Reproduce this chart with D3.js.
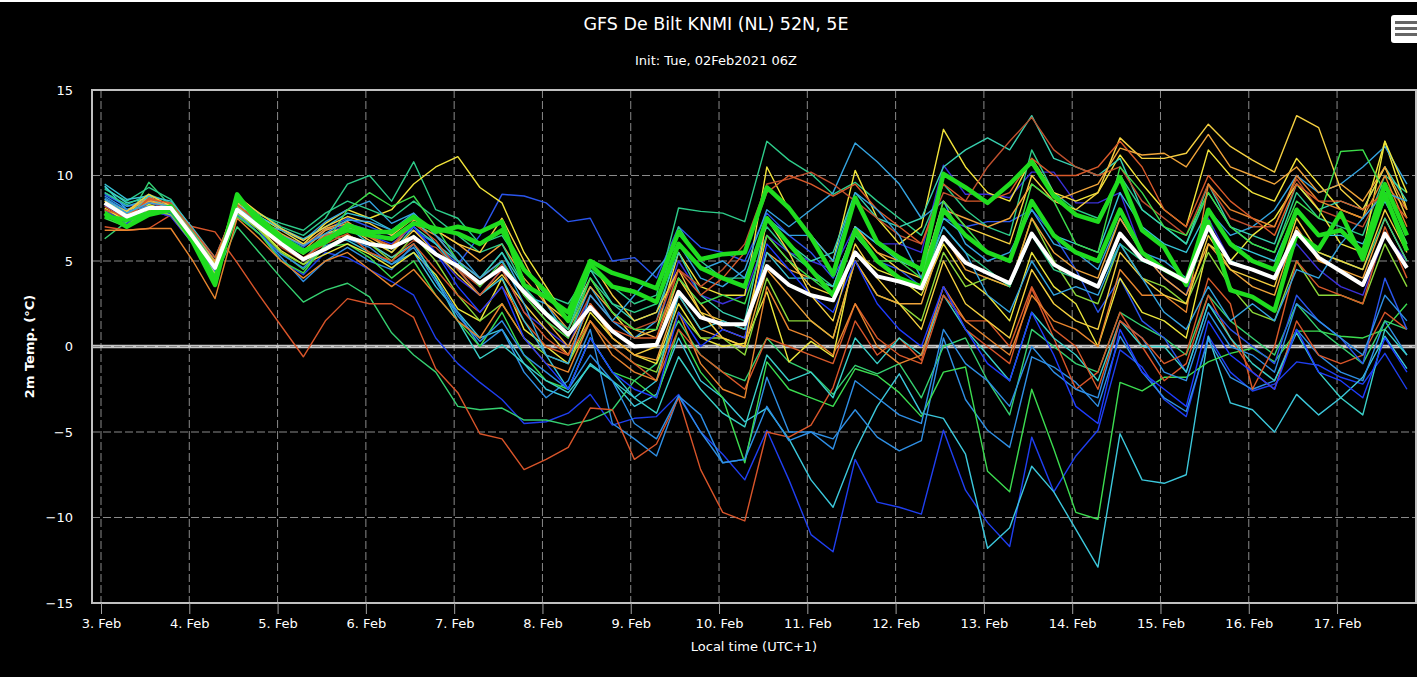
<!DOCTYPE html>
<html>
<head>
<meta charset="utf-8">
<script src="https://cdn.jsdelivr.net/npm/d3@7"></script>
<style>
html,body{margin:0;padding:0;background:#fff;overflow:hidden}
svg{display:block}
text{font-family:"DejaVu Sans",Verdana,sans-serif}
</style>
</head>
<body>
<div id="chart"></div>
<script>
// GFS ensemble, 2m temperature, De Bilt; 6-hourly steps from 3 Feb 01:00 local
var startTime = Date.UTC(2021, 1, 3, 1),
    stepHours = 6;

var meanTemp = [8.4,7.6,8.1,8.1, 6.4,4.6,8.0,7.0, 6.0,5.1,5.7,6.4, 6.0,5.8,6.4,5.4, 4.7,3.7,4.6,3.2,
    1.9,0.7,2.3,0.9, 0.0,0.1,3.2,1.7, 1.3,1.3,4.7,3.6, 3.0,2.7,5.5,4.1, 3.8,3.4,6.4,4.9,
    4.3,3.7,6.6,4.8, 4.1,3.5,6.6,5.1, 4.5,3.8,7.0,4.9, 4.5,4.0,6.7,5.2, 4.4,3.6,6.6,4.6];

var opRun = [7.6,7.4,7.8,8.2, 6.1,3.6,8.7,7.5, 6.4,5.6,6.1,7.1, 6.7,6.7,7.6,6.7, 7.0,6.7,7.3,3.6,
    2.9,2.0,5.0,4.3, 3.9,3.4,6.7,5.1, 5.4,5.5,9.3,8.1, 6.4,4.2,8.7,6.1, 5.2,4.5,10.1,9.3,
    8.4,9.5,10.8,8.8, 7.7,7.3,9.9,6.8, 5.8,3.6,7.3,3.3, 2.9,2.1,6.6,5.7, 7.8,5.1,8.9,5.6];

var ctrlRun = [7.8,7.0,7.7,8.0, 6.3,3.9,8.9,7.2, 6.2,5.5,6.3,6.8, 6.5,6.3,7.2,6.9, 6.6,6.0,6.8,4.5,
    3.2,1.5,4.8,3.5, 3.2,2.6,6.0,4.6, 4.0,3.5,7.5,6.0, 4.5,3.0,6.8,5.0, 4.0,3.5,8.0,6.5,
    5.5,5.0,8.5,6.5, 5.5,5.0,8.0,5.5, 4.5,3.8,8.0,6.0, 5.0,4.5,8.0,6.5, 6.8,5.5,9.5,6.5];

var memberColors = ["#1f3ff0","#3cc8dc","#2f8fe4","#3cdc50","#35d070","#d9552a","#2a55ec","#3a30d8",
    "#2ecc8a","#f2e43a","#34a4e0","#38d0b0","#c0502e","#f5d040","#f0a43a","#ece63c","#3ad0c8",
    "#2e8fe6","#8cd83a","#f0a43a","#d95a2a","#2ecc8a","#36c3d6","#3ddc4a","#e8852e","#1e3cff",
    "#f5d040","#d95a2a","#34a4e0"];

var members = [
  [8.0,7.2,8.0,7.6, 6.0,4.0,8.0,6.8, 5.0,4.2,5.5,5.2, 4.5,3.8,3.0,0.5, -1.0,-2.1,-3.1,-4.5, -4.4,-3.9,-2.8,-4.6, -4.2,-4.1,-2.8,-5.0, -6.3,-7.8,-4.9,-7.8, -11.0,-12.0,-6.6,-9.1, -9.4,-9.8,-4.9,-8.4, -10.3,-11.7,-5.3,-8.5, -6.4,-4.9,-0.2,-1.2, -3.1,-4.1,0.6,-1.5, -2.6,-2.2,-0.9,-1.1, -1.8,-2.2,-0.4,-2.5],
  [9.4,8.0,8.5,8.0, 6.5,4.5,8.3,7.0, 6.0,5.0,6.5,6.2, 5.5,4.8,5.5,3.5, 2.0,0.5,1.0,-1.0, -2.5,-3.0,-1.0,-2.0, -3.5,-2.8,0.5,-2.0, -3.0,-4.4,-3.6,-5.4, -7.8,-9.4,-6.1,-3.5, -1.6,-3.9,-4.2,-6.3, -11.8,-10.6,-7.0,-8.5, -10.7,-12.9,-5.1,-7.8, -8.0,-7.5,0.6,-3.3, -3.7,-5.0,-2.8,-4.0, -3.0,-1.8,0.6,-1.3],
  [8.8,8.0,8.3,7.8, 6.2,4.3,7.8,6.6, 5.2,3.8,5.0,5.8, 5.0,4.5,6.0,4.0, 2.0,0.0,1.0,-1.5, -3.0,-2.0,1.0,-4.5, -5.4,-6.4,-2.9,-5.0, -6.8,-6.6,-1.8,-5.0, -5.0,-5.4,-3.7,-5.3, -6.1,-5.5,0.5,-3.1, -4.9,-5.9,-0.6,-1.2, -2.1,-3.5,0.6,-1.5, -3.0,-3.8,0.4,-1.8, -2.5,-2.0,1.0,-0.5, -1.5,-2.0,1.5,-0.5],
  [7.5,7.0,8.3,7.9, 6.2,4.2,8.2,7.0, 5.5,4.5,5.8,6.0, 5.2,4.0,5.0,3.0, 1.5,0.0,2.0,-0.5, -2.0,-2.5,0.5,-1.5, -2.0,-3.0,1.0,-1.5, -3.0,-6.8,-0.9,-2.5, -3.0,-3.5,-1.3,-1.7, -2.7,-4.1,-1.5,-1.2, -7.3,-8.5,-2.5,-6.0, -9.7,-10.1,-2.1,-2.6, -1.8,-1.8,-0.9,-0.4, -0.1,-0.9,0.9,0.9, 0.6,0.5,1.0,2.5],
  [6.3,7.3,9.6,8.2, 6.5,4.0,7.0,5.5, 4.0,2.6,3.3,3.7, 2.9,0.8,-0.5,-1.5, -3.5,-3.7,-3.6,-4.3, -4.3,-4.6,-4.3,-3.7, -2.0,-1.0,1.5,-0.5, -1.5,-2.0,0.5,-0.9, -1.5,-2.8,-1.1,-1.6, -1.0,-3.0,0.0,0.5, -2.0,-4.0,1.0,0.0, -1.0,-1.5,2.0,1.2, 0.5,-0.5,3.0,1.5, 0.5,-0.5,2.5,1.0, 0.0,-1.0,1.5,1.0],
  [7.0,6.8,6.9,7.7, 7.0,6.7,4.9,3.0, 1.2,-0.6,1.5,2.8, 2.5,2.5,1.7,-1.3, -2.7,-5.1,-5.4,-7.2, -6.6,-5.9,-3.6,-3.7, -6.6,-5.7,-3.0,-7.2, -9.7,-10.2,-5.0,-5.3, -4.6,-2.4,1.5,-0.5, 0.5,-0.8,3.5,1.0, 0.0,-1.0,3.4,0.5, -2.5,-1.5,2.0,0.0, -2.0,-1.0,3.0,0.5, -1.5,-2.5,1.5,-0.5, -1.0,-0.5,2.0,1.0],
  [8.9,8.2,8.4,8.0, 6.8,5.0,7.5,7.3, 6.4,5.8,6.8,7.5, 7.0,6.5,6.8,6.0, 4.8,6.5,8.9,8.8, 8.4,7.3,7.5,5.0, 5.2,4.0,7.0,5.8, 5.5,5.0,7.8,6.5, 5.5,4.0,6.5,5.0, 4.5,3.5,7.5,7.0, 7.3,7.3,8.0,6.5, 4.5,2.0,4.0,1.5, 0.5,-1.5,2.5,1.0, 0.0,-1.0,3.0,1.5, 0.5,-1.0,4.0,1.0],
  [8.2,7.8,8.0,7.6, 6.0,4.4,8.2,7.4, 6.5,6.0,6.5,7.2, 6.8,6.2,7.0,5.5, 4.0,3.0,4.5,2.0, 1.0,0.0,3.0,1.5, 0.5,1.0,5.0,3.0, 2.5,3.0,6.5,5.5, 5.0,4.5,7.0,6.0, 6.0,5.5,10.6,8.9, 8.9,8.7,10.2,10.2, 8.4,8.4,9.0,5.5, 4.0,3.0,7.5,5.0, 4.5,4.0,6.0,4.5, 3.5,3.0,6.5,5.0],
  [9.2,8.5,9.3,8.6, 6.8,4.8,8.6,7.8, 7.0,6.5,7.5,9.5, 10.0,8.5,10.8,8.0, 7.5,6.0,6.5,4.5, 3.0,2.5,4.5,3.5, 2.5,3.0,8.1,7.9, 7.8,7.3,12.0,10.9, 10.1,8.9,9.6,8.5, 7.5,6.5,9.5,8.0, 7.0,6.5,11.5,9.0, 8.0,7.5,10.0,8.0, 7.0,6.0,9.0,7.0, 6.0,5.5,9.0,7.5, 7.0,6.5,10.0,9.0],
  [8.5,7.8,8.8,8.0, 6.6,4.8,8.5,7.6, 6.8,6.0,7.2,8.0, 7.5,8.0,9.5,10.5, 11.1,9.3,8.4,5.5, 3.5,1.5,4.0,2.0, 0.5,1.0,5.5,3.5, 3.0,3.0,10.5,8.0, 6.5,5.0,10.3,7.5, 6.0,7.0,12.7,10.5, 9.0,8.5,11.0,9.0, 8.5,9.0,11.2,9.5, 8.0,7.0,11.5,10.0, 9.0,8.5,11.0,9.5, 8.0,7.5,12.0,8.0],
  [9.0,8.2,8.6,8.2, 6.5,4.6,8.0,7.2, 6.8,6.2,7.3,8.0, 8.5,7.2,7.8,6.5, 5.5,4.0,5.5,3.0, 2.5,0.5,3.5,1.5, 0.5,1.5,6.0,4.0, 3.5,4.5,8.0,7.0, 8.0,9.0,11.9,10.8, 9.5,7.5,8.5,6.0, 5.0,5.5,8.0,6.0, 5.5,4.5,7.5,5.5, 5.0,4.0,8.0,6.5, 7.0,8.0,10.0,9.0, 9.5,10.5,11.7,9.5],
  [8.0,7.5,8.8,7.8, 6.2,4.2,8.4,7.0, 6.0,5.0,6.5,7.0, 6.5,5.5,7.0,6.0, 5.0,4.0,5.5,3.5, 2.0,1.0,4.5,2.5, 1.5,2.0,5.5,3.0, 2.0,1.5,7.5,6.0, 5.0,5.5,9.0,7.5, 7.0,7.5,10.5,11.5, 12.2,11.5,13.5,11.0, 10.5,10.0,11.0,8.0, 7.0,6.0,9.5,7.0, 6.5,6.0,9.5,8.0, 8.5,8.0,10.5,8.5],
  [8.0,7.4,8.4,8.1, 6.4,4.6,8.0,7.0, 5.8,5.0,6.3,6.5, 6.0,5.2,6.2,5.8, 4.5,3.5,4.8,3.0, 1.5,0.5,3.0,1.5, 1.0,1.5,4.5,3.5, 4.5,6.0,9.5,9.8, 10.2,9.5,8.5,7.5, 6.5,6.0,9.0,8.5, 10.5,12.0,13.4,11.5, 10.5,10.0,10.5,8.5, 7.5,6.5,9.5,7.5, 7.0,7.0,9.8,8.0, 7.5,7.0,9.5,8.0],
  [8.3,7.6,8.6,8.0, 6.5,4.5,8.4,7.4, 6.2,5.4,6.6,7.0, 6.2,5.5,6.8,5.5, 4.2,3.0,4.2,2.5, 1.0,-0.5,2.5,0.5, -0.5,0.0,4.0,2.0, 1.5,1.0,6.5,5.0, 3.5,3.0,7.0,5.5, 4.5,4.0,8.5,7.0, 6.5,6.0,10.0,8.5, 8.0,9.0,12.2,11.0, 11.0,11.3,13.0,11.7, 10.9,10.2,13.5,12.8, 9.2,8.0,10.5,7.5],
  [8.6,7.9,8.7,8.3, 6.7,5.0,8.2,7.3, 6.3,5.6,6.8,7.2, 6.5,5.8,7.4,6.8, 6.0,5.0,6.0,4.0, 2.5,1.0,3.5,2.0, 1.0,0.5,4.0,2.5, 1.0,0.5,5.5,4.5, 4.0,3.5,7.0,5.5, 5.0,4.5,8.0,7.5, 7.0,7.5,9.5,8.5, 9.0,9.5,11.6,11.2, 11.3,10.5,12.4,10.5, 10.0,9.5,10.5,9.0, 9.5,8.5,10.5,8.0],
  [8.1,7.3,8.3,7.9, 6.3,4.3,7.9,6.9, 5.6,4.8,5.4,6.0, 5.4,4.6,5.5,4.2, 2.2,1.5,4.0,1.0, 0.0,-1.0,2.0,0.5, -0.5,-1.0,2.5,0.5, 0.0,0.2,3.2,-0.9, 0.3,-0.6,5.5,4.5, 4.0,3.0,6.0,4.0, 3.0,1.5,5.5,3.5, 2.5,0.0,4.0,2.0, 1.5,0.5,6.0,5.0, 6.5,7.5,9.5,8.0, 6.0,5.5,12.0,9.0],
  [9.3,8.4,8.7,8.1, 6.6,4.7,8.1,7.2, 6.2,5.5,6.4,7.0, 6.0,5.2,6.0,4.0, 1.5,-0.7,0.1,-1.0, -2.0,-2.7,-1.1,-2.0, -3.0,-3.9,-0.6,-2.5, -3.9,-4.7,-0.5,-2.0, -1.5,-3.0,0.5,-1.0, 0.5,-0.5,3.0,1.0, -0.5,-2.0,2.0,0.5, -0.5,-2.0,1.5,0.0, 0.0,-1.5,2.5,0.5, -1.0,-2.0,0.8,-1.5, -3.0,-4.0,1.0,-0.5],
  [8.7,7.9,8.2,7.7, 6.3,4.4,7.7,6.6, 5.4,4.6,5.9,6.3, 5.8,4.8,5.8,3.8, 1.8,0.3,1.5,-0.5, -1.5,-2.5,-0.5,-2.0, -4.5,-5.4,-2.9,-4.0, -6.8,-6.6,-3.5,-5.5, -5.0,-6.0,-2.0,-3.0, -4.0,-4.5,1.0,-1.0, -2.0,-3.5,0.0,-1.5, -2.5,-3.0,1.5,0.5, -1.5,-2.0,2.0,0.0, -0.5,-1.5,2.5,1.5, 0.5,-0.5,3.0,1.5],
  [7.9,7.1,8.0,7.7, 6.0,4.1,7.8,6.8, 5.5,4.8,5.8,6.5, 6.0,5.0,6.5,5.0, 3.0,1.5,2.5,0.5, -0.5,-1.0,1.5,0.0, -1.0,-1.5,2.0,0.5, 0.5,-0.5,4.0,1.5, 1.5,0.5,5.0,3.0, 2.5,1.5,5.5,3.5, 4.0,3.5,7.5,5.0, 3.0,2.5,6.0,4.0, 3.5,2.5,5.5,3.5, 2.0,1.5,5.0,3.0, 3.0,2.5,6.0,3.5],
  [8.4,7.7,8.5,8.2, 6.6,4.9,8.3,7.5, 6.6,5.9,6.9,7.3, 6.4,5.7,7.2,6.5, 5.0,4.0,5.0,3.0, 1.5,0.0,2.5,0.5, -0.5,-0.8,3.0,1.0, 0.5,0.0,4.5,3.0, 1.5,0.5,5.0,3.0, 2.5,2.5,6.5,4.5, 4.0,3.5,7.5,5.5, 4.5,4.0,7.5,5.5, 4.0,3.0,6.0,4.5, 3.5,3.0,7.0,5.0, 4.5,4.0,7.5,5.0],
  [8.2,7.4,8.7,8.3, 6.5,4.7,8.0,7.1, 6.0,5.2,6.0,6.6, 5.5,5.0,6.0,4.5, 3.0,2.0,3.5,1.5, 0.0,-0.5,1.5,0.0, -1.0,-2.0,1.0,-0.5, -1.5,-2.5,0.5,0.0, -0.5,-1.0,2.5,0.5, -0.5,-1.0,3.0,1.5, 1.5,0.0,3.5,1.0, 0.0,-2.5,1.5,0.5, -1.0,-0.4,4.0,2.5, -2.5,0.0,5.0,3.5, 3.0,2.5,7.0,4.0],
  [9.0,8.3,8.9,8.4, 6.7,4.8,8.5,7.7, 7.2,6.8,7.8,8.5, 8.0,7.5,8.5,7.5, 6.5,5.5,6.0,3.5, 2.0,1.0,4.0,2.5, 2.0,2.5,7.0,5.0, 4.0,4.0,7.0,5.5, 4.5,3.5,6.5,5.0, 4.0,3.5,7.0,5.5, 4.5,3.5,6.5,4.5, 4.0,3.5,6.0,5.0, 4.5,4.0,7.0,5.0, 4.5,4.0,6.5,5.5, 5.0,4.5,7.5,5.0],
  [9.5,8.6,8.8,8.5, 6.9,5.2,8.3,7.6, 6.9,6.3,7.0,7.8, 7.5,6.8,7.6,6.0, 4.5,3.0,4.0,1.5, -0.5,-2.5,0.5,-1.5, -3.0,-2.0,3.0,1.0, 1.5,1.0,5.5,4.0, 4.0,3.5,7.0,6.0, 5.0,4.5,7.5,6.5, 5.5,5.0,8.5,6.5, 6.0,5.5,9.0,7.0, 6.0,5.5,8.0,6.0, 5.5,5.0,8.0,6.5, 6.5,6.0,8.5,6.0],
  [7.7,7.0,8.2,7.8, 6.1,4.0,7.6,6.6, 5.0,4.3,6.0,8.0, 9.0,8.2,8.8,7.0, 5.0,3.5,5.0,3.0, 1.5,0.5,4.0,2.0, 1.0,1.0,4.0,2.5, 3.0,2.5,6.5,5.0, 4.0,3.0,6.5,5.0, 5.0,4.0,8.5,7.0, 5.5,5.0,9.5,8.5, 6.0,5.5,10.5,9.0, 7.0,6.5,9.0,7.0, 6.0,5.5,8.5,7.5, 11.4,11.5,9.0,6.0],
  [6.8,6.8,6.9,6.9, 5.0,2.8,7.5,6.3, 5.0,4.0,5.0,5.5, 4.5,3.5,4.5,3.0, 1.5,0.5,2.5,0.5, -1.0,-1.5,1.5,-0.5, -1.5,-2.0,2.0,-1.0, -2.5,-3.0,3.5,1.0, 0.5,-0.5,2.5,0.0, -1.0,-0.5,3.5,1.5, 0.5,-0.5,3.0,1.5, 1.0,0.0,4.5,3.0, 3.0,2.0,9.5,8.0, 7.5,7.0,10.0,8.5, 8.0,7.5,10.0,7.0],
  [8.3,7.5,8.1,7.8, 6.2,4.5,7.9,7.0, 6.0,5.5,6.2,6.8, 6.5,6.0,7.0,5.5, 3.5,2.0,3.5,0.5, -1.0,-2.5,0.5,-1.5, -2.5,-3.0,2.0,0.0, 1.0,0.5,6.0,4.5, 3.0,2.0,5.0,2.5, 1.0,0.0,3.5,1.0, -1.0,-2.0,2.0,-0.5, -3.5,-4.5,1.0,-1.5, -2.5,-3.5,1.5,-0.5, -1.5,-2.5,1.0,-1.5, -2.0,-3.0,0.5,-1.5],
  [8.5,7.9,8.9,8.2, 6.5,4.8,8.8,7.8, 6.9,6.2,7.0,7.6, 7.2,6.5,7.5,6.8, 6.0,5.5,7.5,5.0, 2.5,1.5,5.0,3.0, 1.5,2.0,4.5,2.0, 0.5,0.0,7.5,5.5, 3.0,1.5,6.0,4.0, 2.5,1.0,5.0,2.5, 1.5,0.5,4.5,2.5, 1.5,1.0,5.5,4.0, 3.0,2.5,6.5,4.5, 4.0,3.5,7.5,5.5, 5.0,4.5,8.0,5.5],
  [8.0,7.6,8.6,8.4, 6.8,5.2,8.3,7.2, 6.2,5.5,6.5,6.8, 6.4,5.9,7.2,6.2, 4.5,3.0,4.5,2.0, 0.5,-0.5,2.5,1.0, 0.5,0.5,4.5,3.0, 4.0,5.5,9.0,10.0, 9.5,8.8,9.5,8.0, 7.0,6.0,9.5,8.5, 8.5,9.0,11.0,10.0, 10.0,10.5,12.0,10.5, 8.0,7.0,10.0,8.5, 7.5,6.5,9.5,8.5, 8.5,8.0,9.0,7.5],
  [8.6,7.8,8.4,8.2, 6.4,4.7,8.1,7.1, 6.5,5.9,6.6,7.4, 7.3,6.8,7.8,6.5, 5.0,4.0,5.0,2.5, -0.5,-1.0,3.0,1.5, 3.0,4.5,6.0,4.5, 5.0,4.0,7.5,6.5, 6.5,5.0,9.0,8.0, 6.5,4.0,7.0,5.5, 3.0,2.0,5.0,3.0, 3.5,3.0,6.0,4.0, 2.0,1.0,3.5,1.5, 2.5,1.5,4.5,4.0, 6.0,7.5,9.0,8.5]
];

var yTicks = [-15, -10, -5, 0, 5, 10, 15];

var W = 1423, H = 677,
    m = {t: 90, r: 7, b: 74, l: 92},
    w = W - m.l - m.r,
    h = H - m.t - m.b;

var times = meanTemp.map(function(d, i){ return new Date(startTime + i * stepHours * 3600e3); });

var day = 864e5, dayPx = 88.29, t3 = Date.UTC(2021, 1, 3);
var x = d3.scaleUtc()
    .domain([new Date(t3 - 9 / dayPx * day), new Date(t3 + (w - 9) / dayPx * day)])
    .range([0, w]);
var y = d3.scaleLinear().domain([-15, 15]).range([h, 0]);

var svg = d3.select('#chart').append('svg').attr('width', W).attr('height', H);
svg.append('rect').attr('width', W).attr('height', H).attr('fill', '#fff');
svg.append('rect').attr('x', 0).attr('y', 2).attr('width', 1417).attr('height', H - 2).attr('fill', '#000');

svg.append('text').attr('x', 716).attr('y', 30).attr('text-anchor', 'middle')
    .attr('fill', '#fff').style('font-size', '17.5px').text('GFS De Bilt KNMI (NL) 52N, 5E');
svg.append('text').attr('x', 716).attr('y', 65).attr('text-anchor', 'middle')
    .attr('fill', '#fff').style('font-size', '13px').text('Init: Tue, 02Feb2021 06Z');

// menu button
var btn = svg.append('g');
btn.append('rect').attr('x', 1391).attr('y', 15).attr('width', 34).attr('height', 28).attr('rx', 3).attr('fill', '#fff');
[22.5, 28.5, 34.5].forEach(function(yy){
    btn.append('rect').attr('x', 1395).attr('y', yy - 1.5).attr('width', 26).attr('height', 3).attr('fill', '#666');
});
svg.append('rect').attr('x', 1417).attr('y', 0).attr('width', 6).attr('height', H).attr('fill', '#fff');

var g = svg.append('g').attr('transform', 'translate(' + m.l + ',' + m.t + ')');

g.append('clipPath').attr('id', 'clip').append('rect').attr('width', w).attr('height', h);

var dayTicks = x.ticks(d3.utcDay.every(1));

// grid
g.append('g').selectAll('line').data(dayTicks).enter().append('line')
    .attr('x1', function(d){ return x(d); }).attr('x2', function(d){ return x(d); })
    .attr('y1', 0).attr('y2', h)
    .attr('stroke', '#8a8a8a').attr('stroke-width', 1).attr('stroke-dasharray', '8,3');
g.append('line').attr('x1', 0).attr('x2', w).attr('y1', y(0)).attr('y2', y(0))
    .attr('stroke', '#c4c4c4').attr('stroke-width', 3.5);
g.append('g').selectAll('line').data(yTicks.slice(1, -1)).enter().append('line')
    .attr('x1', 0).attr('x2', w)
    .attr('y1', function(d){ return y(d); }).attr('y2', function(d){ return y(d); })
    .attr('stroke', '#8a8a8a').attr('stroke-width', 1).attr('stroke-dasharray', '8,3');

var line = d3.line()
    .x(function(d, i){ return x(times[i]); })
    .y(function(d){ return y(d); });

var series = g.append('g').attr('clip-path', 'url(#clip)');

series.selectAll('path.member').data(members).enter().append('path')
    .attr('class', 'member')
    .attr('d', line)
    .attr('fill', 'none')
    .attr('stroke', function(d, i){ return memberColors[i]; })
    .attr('stroke-width', 1.4)
    .attr('stroke-linejoin', 'round');

[ctrlRun, opRun].forEach(function(s){
    series.append('path').datum(s).attr('d', line).attr('fill', 'none')
        .attr('stroke', '#1fdc1f').attr('stroke-width', 4.5).attr('stroke-linejoin', 'round');
});
series.append('path').datum(meanTemp).attr('d', line).attr('fill', 'none')
    .attr('stroke', '#fff').attr('stroke-width', 4).attr('stroke-linejoin', 'round');

// frame
g.append('rect').attr('x', 0).attr('y', 0).attr('width', w).attr('height', h)
    .attr('fill', 'none').attr('stroke', '#c0c0c0').attr('stroke-width', 2);

// axes
var xAxis = g.append('g').attr('transform', 'translate(0,' + h + ')')
    .call(d3.axisBottom(x).tickValues(dayTicks).tickSize(11).tickPadding(5)
        .tickFormat(d3.utcFormat('%-d. %b')));
xAxis.select('.domain').remove();
xAxis.selectAll('.tick line').attr('stroke', '#a0a0a0');
xAxis.selectAll('text').attr('fill', '#fff').style('font-size', '13px');

var yAxis = g.append('g')
    .call(d3.axisLeft(y).tickValues(yTicks).tickSize(0).tickPadding(19));
yAxis.select('.domain').remove();
yAxis.selectAll('text').attr('fill', '#fff').style('font-size', '13px')
    .text(function(d){ return d < 0 ? '\u2212' + Math.abs(d) : d; });

svg.append('text').attr('transform', 'translate(34,' + (m.t + h / 2) + ') rotate(-90)')
    .attr('text-anchor', 'middle').attr('fill', '#fff')
    .style('font-size', '13px').style('font-weight', 'bold').text('2m Temp. (\u00B0C)');
svg.append('text').attr('x', m.l + w / 2).attr('y', 651).attr('text-anchor', 'middle')
    .attr('fill', '#fff').style('font-size', '13px').text('Local time (UTC+1)');
</script>
</body>
</html>
